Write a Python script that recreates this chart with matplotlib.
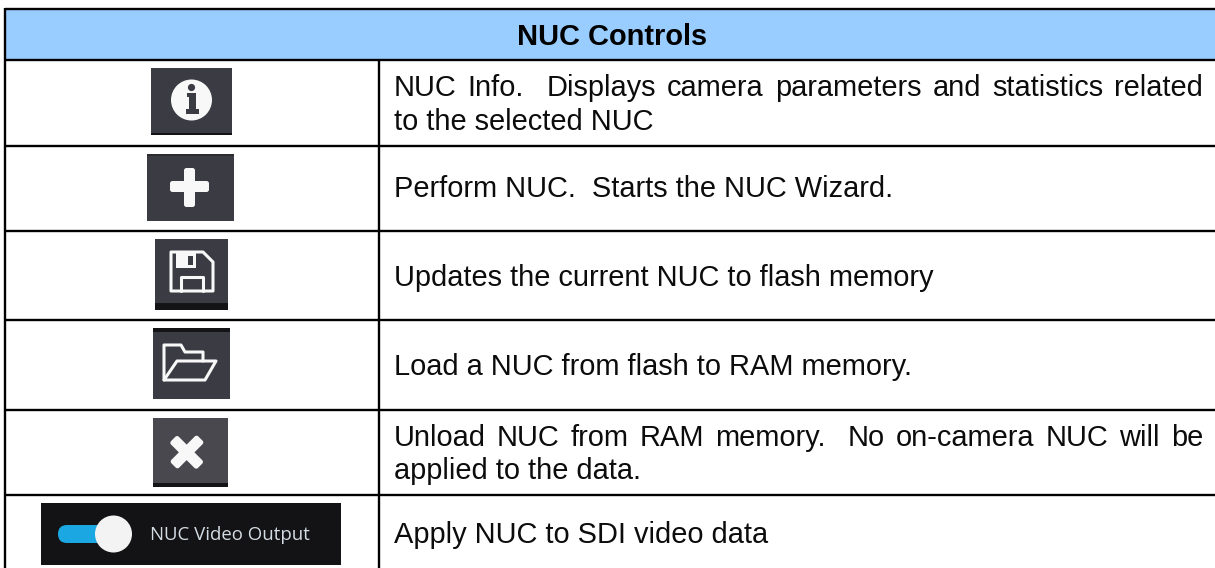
import matplotlib
matplotlib.use("Agg")
import matplotlib.pyplot as plt
from matplotlib.patches import Rectangle, Circle, Polygon, FancyBboxPatch
from matplotlib.transforms import Affine2D

plt.rcParams["font.family"] = ["Liberation Sans", "DejaVu Sans"]

W, H = 1215, 568
TITLE = "NUC Controls"
TOGGLE_LABEL = "NUC Video Output"

# (text, baseline y, justified to the right margin)
ROW_LINES = [
    ("NUC Info.  Displays camera parameters and statistics related", 96.5, True),
    ("to the selected NUC", 130, False),
    ("Perform NUC.  Starts the NUC Wizard.", 197, False),
    ("Updates the current NUC to flash memory", 285.5, False),
    ("Load a NUC from flash to RAM memory.", 375, False),
    ("Unload NUC from RAM memory.  No on-camera NUC will be", 445.5, True),
    ("applied to the data.", 479, False),
    ("Apply NUC to SDI video data", 543, False),
]
ROW_EDGES = [60, 145.5, 231, 320, 410, 495]

TEXT_X0, TEXT_X1 = 394, 1203
DARK = "#3b3b43"
STRIP = "#141416"
WHITE = "#f8f8f8"

fig = plt.figure(figsize=(W / 100, H / 100), dpi=100)
ax = fig.add_axes([0, 0, 1, 1])
ax.set_xlim(0, W)
ax.set_ylim(H, 0)
ax.axis("off")


def rect(x0, y0, x1, y1, color, z=2):
    ax.add_patch(Rectangle((x0, y0), x1 - x0, y1 - y0, fc=color, ec="none", zorder=z))


def outline(pts, closed=True, lw=2.2):
    ax.add_patch(Polygon(pts, closed=closed, fc="none", ec=WHITE, lw=lw,
                         joinstyle="round", capstyle="round", zorder=4))


# table frame
rect(5, 9, W, 60, "#99ccff", z=1)
LINE = dict(color="black", lw=1.7, solid_capstyle="butt", zorder=3)
ax.plot([5, W], [9, 9], **LINE)
for y in ROW_EDGES:
    ax.plot([5, W], [y, y], **LINE)
ax.plot([5, 5], [8, H], **LINE)
ax.plot([379, 379], [60, H], **LINE)

# header + right column text
FS = 20.9
ax.text(612, 45, TITLE, fontsize=FS, fontweight="bold", ha="center", va="baseline", color="black")

renderer = fig.canvas.get_renderer()


def text_width(s):
    t = ax.text(0, 0, s, fontsize=FS)
    w = t.get_window_extent(renderer).width
    t.remove()
    return w


for line, y, justify in ROW_LINES:
    if not justify:
        ax.text(TEXT_X0, y, line, fontsize=FS, va="baseline", color="#0c0c0c")
        continue
    parts = line.split(" ")
    words = [p for p in parts if p]
    gap = (TEXT_X1 - TEXT_X0 - sum(text_width(w) for w in words)) / (len(parts) - 1)
    x = TEXT_X0
    for p in parts:
        if p:
            ax.text(x, y, p, fontsize=FS, va="baseline", color="#0c0c0c")
            x += text_width(p)
        x += gap

# info icon
rect(151, 68, 232, 135, DARK)
rect(151, 133, 232, 135, STRIP)
ax.add_patch(Circle((191.5, 100), 20.5, fc=WHITE, ec="none", zorder=3))
ax.add_patch(Circle((191.5, 87.5), 3.6, fc=DARK, ec="none", zorder=4))
ax.add_patch(Polygon([(187, 93), (195.5, 93), (195.5, 109), (198.5, 109), (198.5, 114),
                      (186, 114), (186, 109), (189, 109), (189, 97), (187, 97)],
                     fc=DARK, ec="none", zorder=4))

# plus icon
rect(147, 154, 234, 221, DARK)
rect(147, 154, 234, 156, "#2c2c30")
ax.add_patch(FancyBboxPatch((170, 181), 39, 11, boxstyle="round,pad=0,rounding_size=2.5",
                            fc=WHITE, ec="none", zorder=4))
ax.add_patch(FancyBboxPatch((184, 168), 11, 39, boxstyle="round,pad=0,rounding_size=2.5",
                            fc=WHITE, ec="none", zorder=4))

# save icon
rect(155, 239, 228, 310, DARK)
rect(155, 303, 228, 310, STRIP)
outline([(171, 252), (203, 252), (213, 262), (213, 291), (171, 291)])
outline([(181, 291), (181, 277), (203, 277), (203, 291)], closed=False)
rect(176, 253, 196, 268, WHITE, z=3)
rect(188, 256, 193, 265, DARK, z=4)

# folder icon
rect(153, 328, 230, 399, DARK)
rect(153, 328, 230, 332, STRIP)
outline([(164, 380), (164, 345), (181, 345), (185, 352), (203, 352), (203, 361)], closed=False)
outline([(177, 361), (216, 361), (205, 380), (164, 380)])

# unload icon
rect(153, 418, 228, 487, "#48484e")
rect(153, 483, 228, 487, STRIP)
rot = Affine2D().rotate_deg_around(187, 452, 45) + ax.transData
for box in [(168, 447, 38, 11), (181.5, 433, 11, 38)]:
    ax.add_patch(FancyBboxPatch(box[:2], box[2], box[3], boxstyle="round,pad=0,rounding_size=2.5",
                                fc=WHITE, ec="none", zorder=4, transform=rot))

# toggle
rect(41, 503, 341, 565, "#131315")
ax.add_patch(FancyBboxPatch((58, 525), 50, 18, boxstyle="round,pad=0,rounding_size=9",
                            fc="#1aa7e2", ec="none", zorder=3))
ax.add_patch(Circle((113.5, 534), 18.5, fc="#f3f3f3", ec="none", zorder=4))
ax.text(150, 535, TOGGLE_LABEL, fontsize=13.4, family="Open Sans", va="center",
        color="#d4dce4", zorder=4)

fig.savefig("out.png", dpi=100)
